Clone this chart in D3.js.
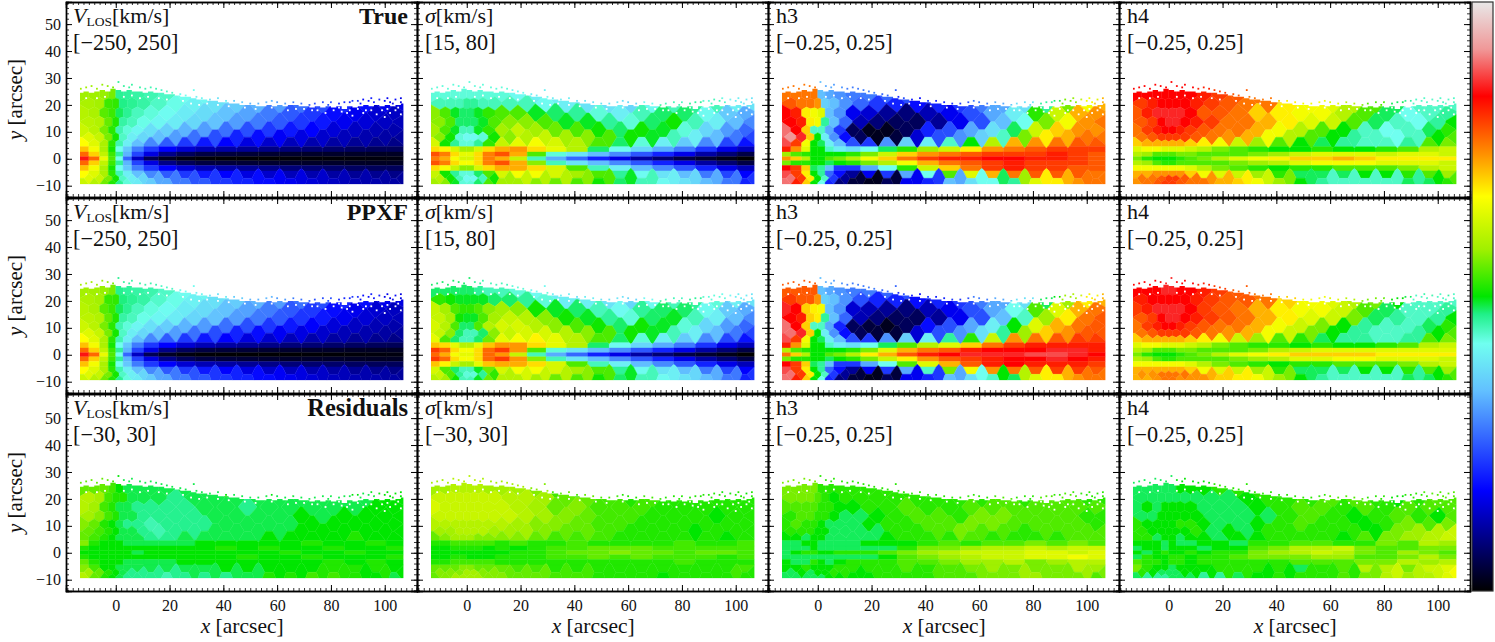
<!DOCTYPE html>
<html><head><meta charset="utf-8">
<script src="https://cdn.jsdelivr.net/npm/d3@7"></script>
<style>
html,body{margin:0;padding:0;background:#fff;overflow:hidden}
svg{display:block}
text{font-family:"Liberation Serif",serif;fill:#111}
.domain{stroke:#000}
</style></head><body><svg id="c" width="1495" height="642"></svg>
<script>
// bin centres (arcsec): outer rows alternate between the two column lists, central rows use colsA
const colsA=[-12,-8,-4,-1.5,1.5,4,8,13,19,26,33,41,49,57,65,73,81,89,97,104];
const colsB=[-10,-6,-2.5,0,2.5,6,10,16,22,29,37,45,53,61,69,77,85,93,100,106];
const rowsY=[24,20.5,17,13.5,10.5,8,5.5,3.5,1.5,0,-1.5,-3.5,-5.5,-7.5,-9];

const vTrue=[
[40,40,38,30,-18,-20,-22,-25,-30,-40,-45,-52,-70,-82,-90,-105,-125,-140,-150,-160],
[45,42,15,12,-15,-18,-22,-30,-38,-48,-58,-72,-85,-95,-115,-130,-148,-160,-170,-175],
[50,45,22,15,-10,-18,-28,-35,-42,-52,-62,-78,-92,-110,-125,-140,-160,-170,-180,-185],
[52,48,25,8,-22,-28,-38,-45,-52,-65,-78,-95,-110,-125,-140,-155,-170,-178,-185,-188],
[60,52,30,10,-25,-35,-45,-60,-70,-85,-95,-115,-130,-140,-155,-165,-178,-185,-190,-192],
[70,58,30,5,-30,-50,-65,-80,-95,-115,-130,-150,-160,-168,-175,-182,-188,-192,-195,-198],
[85,70,45,10,-25,-50,-80,-105,-125,-140,-155,-165,-175,-182,-188,-192,-196,-200,-202,-205],
[105,80,45,5,-40,-75,-110,-140,-165,-180,-190,-195,-200,-205,-210,-212,-215,-218,-220,-220],
[135,100,55,15,-20,-85,-135,-175,-205,-220,-228,-230,-232,-234,-235,-236,-236,-237,-238,-238],
[175,135,75,20,-40,-120,-185,-222,-238,-245,-248,-249,-249,-249,-248,-248,-248,-247,-246,-245],
[135,100,55,15,-20,-85,-135,-175,-205,-220,-228,-230,-232,-234,-235,-236,-236,-237,-238,-238],
[105,80,45,5,-40,-75,-110,-140,-165,-180,-190,-195,-200,-205,-210,-212,-215,-218,-220,-220],
[85,70,45,10,-25,-50,-80,-105,-125,-140,-155,-165,-175,-182,-188,-192,-196,-200,-202,-205],
[70,58,30,5,-30,-50,-65,-90,-110,-128,-140,-150,-160,-168,-175,-182,-188,-192,-195,-198],
[60,50,28,8,-18,-35,-52,-72,-90,-110,-125,-140,-150,-160,-170,-178,-185,-190,-192,-195]];
const sTrue=[
[43,43,43,43,43,43,43,43,42,41,41,40,40,40,41,42,43,43,42,41],
[44,44,44,45,45,44,44,44,44,42,41,40,40,39,42,44,45,44,41,40],
[52,50,47,46,46,47,49,50,50,47,46,45,43,41,44,46,46,42,38,36],
[52,50,46,46,46,47,50,52,52,50,47,47,45,43,46,48,44,41,37,34],
[53,50,47,44,44,47,49,53,55,53,51,50,48,46,48,47,43,39,35,32],
[52,48,43,42,42,43,48,52,54,55,53,52,50,48,47,44,41,37,33,30],
[56,48,45,43,43,45,49,55,57,58,56,54,50,46,43,41,38,34,30,27],
[60,59,56,53,53,56,60,62,63,60,57,54,46,42,39,36,33,29,25,23],
[66,64,60,57,57,60,64,66,62,50,43,40,37,34,31,28,25,22,20,18],
[64,62,58,56,56,60,64,62,55,44,36,32,28,25,22,20,18,17,16,15],
[66,64,60,58,58,60,64,66,62,52,44,40,37,34,31,28,25,22,20,18],
[60,58,55,52,52,56,60,62,62,60,56,50,44,41,37,34,31,28,25,23],
[55,48,45,43,43,46,50,56,58,58,56,53,50,45,42,40,37,33,30,26],
[54,48,44,42,42,44,48,53,55,54,54,52,50,47,44,41,39,36,33,29],
[53,52,47,43,43,46,50,53,53,52,51,50,48,46,44,42,40,37,33,28]];
const h3True=[
[13,13,13,13,-8,-9,-10,-11,-11,-12,-13,-14,-13,-11,-9,-7,-5,-1,4,7],
[14,13,13,12,-7,-8,-10,-12,-14,-15,-16,-15,-14,-11,-9,-6,-2,3,8,11],
[17,16,9,8,7,-8,-10,-17,-18,-20,-21,-19,-17,-13,-9,-5,1,6,11,12],
[17,16,9,8,-2,-8,-12,-19,-21,-22,-22,-20,-17,-13,-8,-4,3,8,12,13],
[20,17,10,-3,-3,-9,-14,-22,-24,-24,-22,-15,-13,-9,-6,-1,6,10,12,12],
[21,18,10,0,-5,-10,-16,-22,-24,-23,-18,-13,-10,-7,-3,3,9,11,13,13],
[19,15,8,0,-1,-5,-8,-13,-14,-10,-7,-5,-3,0,5,11,12,13,14,14],
[16,12,7,0,0,-3,-5,-6,-4,-1,1,4,6,9,12,13,14,15,15,15],
[4,2,1,0,0,0,0,1,3,6,10,12,13,14,15,15,15,16,15,14],
[12,10,5,0,0,2,3,5,8,10,13,15,16,16,17,17,16,16,15,14],
[3,1,1,0,0,-1,0,1,3,5,8,11,13,14,15,16,15,15,15,14],
[17,15,10,-1,-2,-8,-14,-14,-9,-4,1,6,10,13,15,16,15,15,14,14],
[19,15,9,0,-2,-12,-16,-20,-17,-14,-9,-4,2,7,11,13,14,14,14,13],
[20,15,9,0,-3,-14,-20,-23,-24,-23,-17,-14,-9,-4,-1,4,9,11,13,13],
[20,16,10,0,-4,-15,-21,-23,-24,-22,-17,-15,-8,-6,-4,-2,7,9,12,13]];
const h4True=[
[17,17,17,17,17,17,17,16,15,14,13,10,9,8,6,3,1,-2,-3,-3],
[15,16,17,17,17,17,16,15,14,13,13,9,8,7,5,2,-1,-3,-3,-3],
[14,16,18,18,18,18,17,14,14,13,10,9,8,8,5,2,-1,-4,-3,-2],
[14,15,17,18,18,17,16,15,13,13,11,9,7,6,2,-1,-3,-4,-2,0],
[13,15,16,17,17,16,15,14,13,13,11,8,5,2,0,-3,-4,-3,-1,1],
[13,14,15,15,15,15,14,13,12,11,8,5,2,0,-2,-3,-4,-3,0,2],
[10,11,11,11,11,11,10,9,8,6,4,2,0,-1,-2,-3,-3,-2,2,3],
[7,8,8,7,7,7,6,5,3,2,1,0,0,1,0,0,1,2,5,6],
[5,4,2,2,2,3,3,2,2,2,3,4,6,7,7,7,6,7,7,6],
[3,1,0,0,0,1,2,3,5,7,8,9,10,10,11,10,9,9,9,9],
[5,4,2,1,1,2,2,2,2,3,4,5,7,8,8,8,7,7,7,6],
[8,8,8,8,8,8,7,5,3,2,1,0,1,1,2,2,2,3,5,6],
[11,11,12,12,12,12,10,8,7,6,4,1,-1,-1,-1,0,0,1,2,4],
[13,13,14,15,15,14,13,12,11,9,6,3,-1,-3,-3,-3,-3,-2,0,2],
[12,13,14,15,15,14,13,13,11,10,8,4,0,-2,-3,-3,-3,-1,-1,1]];

const vPpxf=[
[42,41,38,30,-17,-20,-22,-24,-30,-41,-46,-52,-71,-82,-90,-106,-124,-140,-151,-160],
[46,42,14,12,-14,-18,-22,-31,-38,-48,-59,-72,-85,-96,-115,-131,-148,-160,-171,-175],
[51,45,22,14,-10,-18,-28,-36,-42,-53,-62,-78,-93,-110,-126,-140,-160,-171,-180,-186],
[53,48,24,8,-22,-28,-38,-45,-52,-66,-78,-95,-111,-125,-141,-155,-170,-179,-185,-188],
[61,52,30,10,-25,-35,-46,-60,-71,-85,-96,-115,-130,-141,-155,-166,-178,-185,-190,-193],
[70,58,30,5,-30,-51,-65,-81,-95,-115,-131,-150,-160,-169,-175,-182,-189,-192,-196,-198],
[85,70,45,10,-25,-50,-81,-105,-125,-141,-155,-165,-176,-182,-188,-193,-196,-200,-202,-205],
[105,80,45,5,-40,-75,-110,-141,-165,-180,-190,-196,-200,-205,-210,-212,-215,-218,-220,-221],
[135,100,55,15,-20,-85,-135,-175,-205,-220,-228,-231,-232,-234,-235,-236,-236,-238,-238,-238],
[175,135,75,20,-40,-120,-185,-222,-238,-245,-248,-249,-249,-249,-249,-248,-248,-247,-246,-245],
[135,100,55,15,-20,-85,-135,-175,-205,-220,-228,-230,-232,-234,-236,-236,-236,-237,-238,-238],
[105,80,45,5,-40,-75,-110,-140,-166,-180,-190,-195,-200,-205,-210,-213,-215,-218,-220,-220],
[85,70,45,10,-25,-50,-80,-105,-126,-140,-155,-165,-175,-183,-188,-192,-196,-200,-203,-205],
[70,58,30,5,-30,-50,-66,-90,-111,-128,-141,-150,-161,-168,-175,-183,-188,-192,-195,-198],
[60,50,28,8,-18,-36,-52,-73,-91,-110,-126,-141,-150,-161,-170,-178,-186,-190,-192,-195]];
const sPpxf=[
[46,46,46,46,46,45,44,44,43,42,41,40,40,40,41,42,43,43,42,41],
[49,48,47,47,47,47,46,46,45,43,41,41,40,39,42,44,45,43,41,40],
[55,53,50,49,49,50,52,53,52,48,47,46,44,42,45,46,46,42,38,36],
[55,53,48,47,47,50,53,55,54,52,48,47,45,43,46,47,44,41,37,34],
[56,54,50,46,46,50,54,56,56,54,52,50,48,46,48,47,43,39,35,32],
[55,52,46,44,44,46,52,55,56,56,54,52,50,48,47,44,41,37,33,30],
[57,50,46,44,44,46,51,57,58,59,57,54,50,46,43,41,38,34,30,27],
[61,60,57,54,54,57,61,63,63,60,57,54,46,42,39,36,33,29,25,23],
[67,65,60,58,58,60,65,67,63,50,43,40,37,34,31,28,25,22,20,18],
[65,62,58,57,57,60,65,63,55,44,36,32,28,25,22,20,18,17,16,15],
[67,65,60,58,58,60,65,67,63,52,44,40,37,34,31,28,25,22,20,18],
[61,59,55,53,53,57,61,62,62,60,56,50,44,41,37,34,31,28,25,23],
[56,50,46,44,44,47,51,56,58,58,56,53,50,45,42,40,37,33,30,26],
[55,50,45,43,43,45,49,54,56,55,54,52,50,47,44,41,39,36,33,29],
[54,53,48,44,44,47,51,54,54,53,51,50,48,46,44,42,40,37,33,28]];
const h3Ppxf=[
[14,14,14,14,-8,-9,-10,-11,-11,-12,-13,-14,-13,-11,-9,-7,-5,0,5,8],
[15,14,14,12,-7,-8,-10,-13,-15,-15,-16,-15,-14,-11,-9,-6,-1,4,9,11],
[18,17,10,9,8,-8,-10,-18,-19,-20,-21,-19,-17,-13,-9,-4,2,7,11,13],
[17,16,10,9,-2,-8,-12,-19,-21,-22,-22,-20,-17,-13,-8,-3,4,9,13,14],
[20,17,10,-3,-3,-9,-15,-22,-23,-24,-22,-16,-13,-9,-5,0,7,11,13,14],
[20,18,10,0,-5,-10,-16,-22,-23,-23,-18,-13,-10,-6,-2,4,10,12,14,14],
[19,15,8,0,-1,-5,-8,-13,-14,-10,-7,-5,-2,1,6,12,13,14,15,15],
[16,12,7,0,0,-3,-5,-6,-4,-1,2,5,7,10,13,15,16,16,16,16],
[5,2,1,0,0,0,0,1,3,7,11,13,14,16,17,17,17,18,18,16],
[13,10,5,0,0,2,3,5,9,11,14,16,17,18,18,18,19,19,18,17],
[3,1,1,0,0,-1,0,1,3,6,9,12,14,15,16,17,17,18,17,16],
[17,15,10,-1,-2,-8,-14,-14,-9,-4,2,7,11,14,16,17,16,16,16,15],
[19,15,9,0,-2,-12,-16,-20,-17,-14,-9,-3,3,8,12,13,14,15,15,14],
[20,15,9,0,-3,-14,-20,-23,-24,-23,-17,-14,-9,-4,0,5,9,11,13,13],
[20,16,10,0,-4,-15,-21,-23,-24,-22,-17,-15,-8,-6,-3,-1,7,9,12,13]];
const h4Ppxf=[
[17,17,17,18,18,17,17,16,15,14,13,10,9,8,6,3,1,-1,-2,-2],
[16,17,17,17,17,17,16,15,14,14,13,10,8,7,5,3,0,-3,-3,-3],
[15,16,18,18,18,18,17,15,14,13,11,9,8,8,6,2,-1,-3,-3,-2],
[14,15,17,18,18,17,16,15,14,13,11,9,7,6,3,-1,-2,-3,-2,0],
[13,15,16,17,17,16,15,14,13,13,11,8,6,3,0,-2,-3,-3,-1,1],
[13,14,15,15,15,15,14,13,12,11,8,6,3,0,-2,-3,-3,-2,0,2],
[10,11,11,11,11,11,10,9,8,6,4,2,1,-1,-2,-2,-3,-2,2,3],
[7,8,8,7,7,7,6,5,3,2,1,1,0,1,0,0,1,2,5,6],
[5,4,2,2,2,3,3,2,2,2,3,5,6,7,7,7,7,7,7,7],
[3,1,0,0,0,1,2,3,5,7,8,9,10,10,10,10,9,9,9,9],
[5,4,2,1,1,2,2,2,2,3,4,5,7,7,8,8,7,7,7,6],
[8,8,8,8,8,8,7,5,3,2,1,0,1,1,2,2,2,3,5,6],
[11,11,11,11,11,11,10,8,7,6,4,1,-1,-1,-1,0,0,1,2,4],
[12,12,13,13,13,13,12,11,10,9,6,3,-1,-3,-3,-3,-3,-2,0,2],
[11,11,12,13,13,12,12,12,10,9,8,4,0,-2,-3,-3,-3,-1,-1,1]];

const vRes=[
[3,3,3,2,0,-1,-1,-1,-1,-1,-1,0,-1,0,0,-1,-1,0,0,0],
[6,5,2,1,1,-1,-1,-1,-2,-1,-1,-1,-1,-1,-1,-1,-1,-1,0,0],
[6,5,2,1,-1,-1,-2,-2,-2,-2,-1,-1,-2,-1,-1,-1,-1,-1,0,0],
[5,4,2,1,-1,-1,-2,-2,-2,-2,-1,-1,-1,-1,0,-1,0,0,0,0],
[4,3,1,0,-1,-2,-2,-3,-2,-2,-2,-1,-1,-1,-1,0,0,0,0,0],
[3,2,1,0,-1,-1,-2,-3,-2,-2,-1,-1,-1,-1,0,0,0,0,0,0],
[3,2,1,0,-1,-1,-1,-2,-2,-1,-1,-1,-1,0,0,0,0,1,0,0],
[4,1,0,0,0,-1,-1,-1,-1,-1,0,0,0,0,0,1,0,0,1,0],
[1,0,0,0,0,0,0,0,0,0,0,1,0,1,0,0,1,0,0,1],
[0,0,0,0,0,0,-1,0,0,0,0,0,0,0,1,0,0,1,0,0],
[1,0,0,0,0,0,0,0,0,0,0,0,1,0,0,1,0,0,0,1],
[3,1,0,0,0,-1,-1,-1,-1,0,0,0,0,0,0,0,1,0,1,0],
[4,2,0,0,-1,-1,-1,-1,-1,-1,-1,0,0,0,0,0,1,1,1,0],
[5,3,1,0,-1,-2,-2,-2,-2,-1,-1,-1,-1,0,0,1,1,0,1,0],
[6,3,1,0,-1,-2,-2,-2,-3,-2,-2,-2,-1,1,1,2,2,1,0,-1]];
const sRes=[
[5,5,6,6,6,6,5,5,5,4,2,2,1,1,1,1,1,1,0,0],
[7,7,7,7,7,7,7,6,6,5,3,3,2,1,2,1,1,1,1,1],
[8,7,7,7,7,7,7,7,6,5,3,4,2,2,2,1,1,1,1,1],
[7,7,7,7,7,7,7,7,6,5,4,3,2,2,1,1,1,0,1,1],
[6,6,6,6,6,6,6,6,5,4,4,3,2,2,1,1,1,1,1,1],
[5,5,6,6,6,6,5,5,5,4,3,3,2,1,1,1,0,1,1,1],
[3,4,5,5,5,4,4,4,4,3,2,2,2,1,1,1,1,1,0,1],
[1,1,2,2,2,2,2,1,2,1,1,2,1,1,1,1,2,1,1,2],
[0,0,1,1,1,1,0,1,0,1,2,2,3,3,3,2,2,2,2,2],
[0,0,0,0,0,0,0,0,1,1,2,3,3,4,3,3,2,3,3,2],
[0,0,1,1,0,0,0,1,1,1,2,2,3,2,3,2,2,2,1,2],
[1,1,2,2,2,2,2,1,1,1,1,1,1,1,1,1,2,1,1,1],
[3,3,3,4,4,3,3,3,2,2,1,1,1,1,1,1,1,1,1,2],
[4,4,4,5,5,4,4,3,3,3,2,2,1,1,1,1,1,1,2,1],
[3,4,5,5,5,5,4,4,3,3,2,2,1,1,1,0,1,1,1,1]];
const h3Res=[
[3,3,3,3,1,1,1,1,1,1,1,1,0,1,1,1,1,1,1,1],
[3,3,3,2,1,0,1,1,1,1,1,1,1,1,2,1,2,2,1,1],
[2,2,2,2,1,1,0,0,1,1,2,1,1,2,2,2,2,2,2,2],
[1,2,2,1,1,0,-1,-1,0,1,2,2,1,3,3,2,2,2,1,1],
[1,2,1,1,0,-1,-1,-1,0,1,1,2,2,3,3,2,2,2,2,1],
[1,1,1,0,0,-1,-1,-1,-1,1,1,2,3,2,2,1,2,2,2,2],
[0,0,-1,0,0,-1,-1,-1,-1,0,1,1,1,2,1,1,1,1,2,2],
[-1,-1,0,0,-1,-1,-1,-1,0,0,0,1,2,1,2,2,3,2,3,2],
[-1,-1,-1,0,-1,-1,-1,-1,-1,-1,1,3,3,4,5,5,6,5,6,6],
[-1,0,1,1,0,0,1,1,1,2,3,4,5,6,6,6,7,7,6,7],
[-1,-1,-1,-1,-1,-1,-1,-1,-1,0,2,3,4,5,6,6,7,7,8,7],
[0,-1,-1,1,0,-1,0,1,1,1,2,2,3,4,4,5,3,4,5,5],
[0,0,1,0,0,0,1,1,1,1,2,1,2,3,4,3,3,3,5,4],
[-1,0,-1,0,0,1,1,0,1,1,1,2,2,3,3,4,3,3,4,3],
[-1,-1,-1,-1,-1,0,0,0,0,1,1,1,2,2,3,3,4,3,3,2]];
const h4Res=[
[-1,-1,-1,-1,-1,0,0,0,1,1,1,1,1,1,2,2,1,1,2,2],
[-1,-1,-1,-1,-1,-1,-1,-1,-1,0,1,1,1,2,2,1,0,1,2,2],
[-1,0,-1,0,0,0,0,-1,-1,-1,0,1,2,2,1,2,1,2,2,2],
[-1,-1,0,0,0,0,0,-1,-1,-1,-1,1,2,1,0,1,2,1,0,2],
[1,0,0,0,0,1,1,0,-1,-1,0,1,2,1,1,0,1,3,2,3],
[1,0,0,0,0,0,1,-1,0,-1,1,1,1,1,1,0,3,4,5,6],
[1,1,-1,0,0,-1,0,0,-1,0,0,1,1,1,0,2,3,4,5,6],
[0,0,0,-1,0,-1,-1,0,0,-1,1,1,2,2,1,1,3,2,5,4],
[-1,0,0,-1,0,0,0,-1,0,0,2,3,5,5,6,3,2,2,3,3],
[0,-1,0,1,0,0,1,0,1,1,3,4,5,6,5,3,2,4,3,2],
[-1,1,0,0,1,1,0,1,1,2,3,3,3,4,4,2,2,3,5,3],
[2,1,1,0,1,1,0,1,1,1,1,1,2,2,2,3,3,5,4,5],
[3,1,0,0,-1,0,0,0,1,1,1,1,-1,1,2,5,5,3,6,7],
[1,0,-1,-1,-1,0,0,0,1,1,0,0,1,1,1,3,6,5,6,8],
[-1,-2,-2,-2,-1,-1,-1,-2,-2,-1,0,1,1,1,2,3,5,4,5,7]];

// footprint of the binned field (arcsec)
const edgeX=[-14,-12,-10,-8,-6,-4,-2,0,2,4,6,8,10,12,14,16,18,20,22,24,26,28,30,32,34,36,38,40,42,44,46,48,50,52,54,56,58,60,62,64,66,68,70,72,74,76,78,80,82,84,86,88,90,92,94,96,98,100,102,104,106,108];
const edgeY=[24.5,25,24.5,25,25.5,25,26,25.5,25,25.5,25,25,24.5,25,24.5,24.5,24,24,23.5,23,23,22.5,22,22,21.5,21.5,21,21,20.5,20.5,20,20,20,19.5,19.5,20,19.5,20,19.5,20,20,19.5,19.5,19,19.5,19,19.5,19,19.5,18.5,19.5,19,19.5,20,19.5,20,19.5,20,19.5,20,20.5,20.5];
const islandX=[-13,-11,-9,-7,-5,-3,-1,1,3,5,6,9,11,13,15,17,19,21,24,26,29,30,32,35,38,41,44,47,50,53,56,58,60,63,66,69,72,74,77,80,83,85,87,90,92,94,96,98,100,102,104,106,106,101,95,103,91,88,79];
const islandY=[26,26.5,27,26,27.5,27,26.5,28.5,27,26.5,27.5,26.5,26,26.5,26,25.5,25,24.5,24,23.5,25.5,23,22.5,22,22.5,21.5,21.5,21,20.5,20.5,21,21.5,21,20.5,21,20.5,20,20.5,21,21,20.5,21,21,21.5,22,21.5,21,22,21.5,21,22,22.5,21,22.5,22.5,20.5,20.5,21.5,20];
const holeX=[-11,-7,-4,3,6,9,12,16,19,25,28,31,34,38,42,48,52,58,64,70,75,78,81,84,86,88,90,92,95,97,99,100,102,104,106,93,87,83,73,67,101,105];
const holeY=[22.5,22.5,23,23,23.5,22.5,23,22.5,22,21.5,20.5,20,20.5,20,19.5,19,18.5,19,18,18.5,18,17,18,17.5,17,16,18.5,17,18,16.5,18,15.5,17,18,16.5,18,18,19,18,18.5,18.5,19];

// colour bar stops
const cmapStops=[0,.17,.34,.42,.47,.5,.58,.67,.75,.84,.92,1];
const cmapColors=["#000000","#0000ff","#62c0ff","#70fff0","#20f088","#00e600","#a0f000","#ffff00","#ff8400","#ff0000","#f09898","#e8e8e8"];

// tick labels and panel text
const xMajor=[0,20,40,60,80,100];
const yMajor=[-10,0,10,20,30,40,50];
const rowNames=["True","PPXF","Residuals"];
const quantities=["V","σ","h3","h4"];
const rangeLabels=[["[−250, 250]","[15, 80]","[−0.25, 0.25]","[−0.25, 0.25]"],
                   ["[−250, 250]","[15, 80]","[−0.25, 0.25]","[−0.25, 0.25]"],
                   ["[−30, 30]","[−30, 30]","[−0.25, 0.25]","[−0.25, 0.25]"]];
const domains=[[[-250,250],[15,80],[-25,25],[-25,25]],
               [[-250,250],[15,80],[-25,25],[-25,25]],
               [[-30,30],[-30,30],[-25,25],[-25,25]]];
const grids=[[vTrue,sTrue,h3True,h4True],[vPpxf,sPpxf,h3Ppxf,h4Ppxf],[vRes,sRes,h3Res,h4Res]];

const svg=d3.select("#c");
const cmap=d3.scaleLinear().domain(cmapStops).range(cmapColors).clamp(true);
const colLeft=[66,417,768,1119], colW=351, rowTop=[2,198,394], rowH=[195,195,197];
const defs=svg.append("defs");
const fmt=d=>String(d).replace("-","−");
const step2=(a,b)=>d3.range(a,b+.01,2);

rowTop.forEach((top,r)=>colLeft.forEach((left,c)=>{
  const W=colW,H=rowH[r];
  const X=d3.scaleLinear().domain([-18.5,112]).range([0,W]);
  const Y=d3.scaleLinear().domain([-14.2,-14.2+H/2.693]).range([H,0]);
  const g=svg.append("g").attr("transform",`translate(${left},${top})`);
  const id=`fp${r}${c}`;
  const cp=defs.append("clipPath").attr("id",id);
  const poly=[[X(-13.3),Y(-9.5)]];
  edgeX.forEach((x,i)=>{const px=Math.min(Math.max(x,-13.3),107);
    poly.push([X(px),Y(edgeY[i])]);
    if(i<edgeX.length-1) poly.push([X(Math.min(Math.max(edgeX[i+1],-13.3),107)),Y(edgeY[i])]);});
  poly.push([X(107),Y(-9.5)]);
  cp.append("path").attr("d","M"+poly.join("L")+"Z");
  islandX.forEach((x,i)=>cp.append("rect").attr("x",X(x)-.9).attr("y",Y(islandY[i])-.9).attr("width",1.8).attr("height",1.8));
  const pts=[],vals=[];
  grids[r][c].forEach((line,ri)=>line.forEach((v,ci)=>{
    const cols=(ri%2&&(ri<6||ri>12))?colsB:colsA;
    pts.push([X(cols[ci]),Y(rowsY[ri])]);vals.push(v);}));
  const vor=d3.Delaunay.from(pts).voronoi([X(-13.3),Y(30),X(107),Y(-9.5)]);
  const norm=d3.scaleLinear().domain(domains[r][c]).range([0,1]);
  g.append("g").attr("clip-path",`url(#${id})`).selectAll("path").data(vals).join("path")
    .attr("d",(d,i)=>vor.renderCell(i))
    .attr("fill",d=>cmap(norm(d))).attr("stroke",d=>cmap(norm(d))).attr("stroke-width",.4);
  g.append("g").selectAll("rect").data(holeX).join("rect")
    .attr("x",d=>X(d)-.9).attr("y",(d,i)=>Y(holeY[i])-.9).attr("width",1.8).attr("height",1.8).attr("fill","#fff");

  const tx=(gen,ticks,size,sel,lab,pad)=>{const a=gen.tickValues(ticks).tickSize(size).tickPadding(pad||6)
      .tickFormat(lab?fmt:"");sel.call(a);sel.selectAll("text").attr("font-size",16);
      sel.selectAll("line").attr("stroke","#000").attr("stroke-width",size==-6?1:.8);
      sel.select(".domain").attr("stroke-width",1.4);};
  const minX=step2(-18,110),minY=step2(-14,58);
  const place=(dx,dy)=>g.append("g").attr("transform",`translate(${dx},${dy})`);
  tx(d3.axisBottom(X),minX,-3,place(0,H));tx(d3.axisBottom(X),xMajor,-6,place(0,H),r==2,9);
  tx(d3.axisTop(X),minX,-3,place(0,0));tx(d3.axisTop(X),xMajor,-6,place(0,0));
  tx(d3.axisLeft(Y),minY,-3,place(0,0));tx(d3.axisLeft(Y),yMajor,-6,place(0,0),c==0,5);
  tx(d3.axisRight(Y),minY,-3,place(W,0));tx(d3.axisRight(Y),yMajor,-6,place(W,0));

  const l1=g.append("text").attr("x",c==0?7:8).attr("y",21).attr("font-size",22);
  if(c==0){l1.append("tspan").attr("font-style","italic").text("V");
    l1.append("tspan").attr("dy",3).attr("font-size",13.5).text("LOS");
    l1.append("tspan").attr("dy",-3).text("[km/s]");}
  else if(c==1){l1.append("tspan").attr("font-style","italic").text("σ");
    l1.append("tspan").text("[km/s]");}
  else l1.text(quantities[c]);
  g.append("text").attr("x",c==0?7:8).attr("y",47.5).attr("font-size",22.3).text(rangeLabels[r][c]);
  if(c==0) g.append("text").attr("x",342).attr("y",22).attr("text-anchor","end")
    .attr("font-weight","bold").attr("font-size",r==2?24.5:24).text(rowNames[r]);
  if(c==0){const t=g.append("text").attr("transform",`translate(-44,${H/2}) rotate(-90)`)
      .attr("text-anchor","middle").attr("font-size",21);
    t.append("tspan").attr("font-style","italic").text("y");t.append("tspan").text(" [arcsec]");}
  if(r==2){const t=g.append("text").attr("x",X(47)).attr("y",H+42)
      .attr("text-anchor","middle").attr("font-size",21.5);
    t.append("tspan").attr("font-style","italic").text("x");t.append("tspan").text(" [arcsec]");}
}));

// colour bar
const cbar=svg.append("g").attr("transform","translate(1472,2)");
const grad=defs.append("linearGradient").attr("id","cb").attr("x1",0).attr("x2",0).attr("y1",1).attr("y2",0);
grad.selectAll("stop").data(cmapStops).join("stop").attr("offset",d=>d).attr("stop-color",(d,i)=>cmapColors[i]);
cbar.append("rect").attr("width",21).attr("height",589).attr("fill","url(#cb)").attr("stroke","#333").attr("stroke-width",1.2);
</script></body></html>
